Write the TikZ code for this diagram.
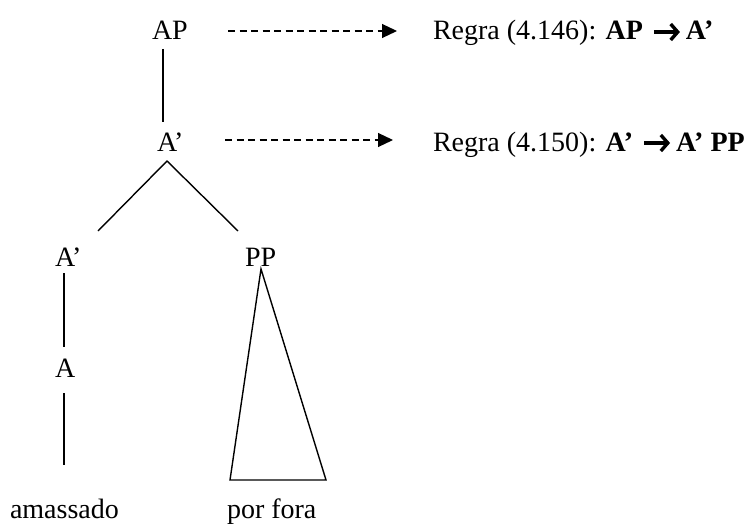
\documentclass[tikz,border=0pt]{standalone}
\usepackage{fontspec}
\setmainfont{Liberation Serif}
\usetikzlibrary{arrows.meta,calc}
\tikzset{
  lbl/.style={inner sep=0pt, outer sep=0pt, text height=19pt, text depth=0pt, anchor=base west, font=\fontsize{28pt}{33pt}\selectfont},
  treeline/.style={line width=1.4pt},
  dasharrow/.style={line width=1.2pt, dash pattern=on 7pt off 4.5pt, -{Triangle[length=15pt,width=14pt]}},
  bigarrow/.style={line width=3.4pt, -{Straight Barb[length=7pt,width=16pt]}}
}
\begin{document}
\begin{tikzpicture}[x=1pt,y=-1pt]
\useasboundingbox (0,0) rectangle (749,524);
% tree nodes
\node[lbl] (ap) at (152,40) {AP};
\node[lbl] (a1) at (157,151) {A’};
\node[lbl] (a2) at (55,266) {A’};
\node[lbl] (pp) at (245,266) {PP};
\node[lbl] (aa) at (55,377) {A};
\node[lbl] (am) at (10,518) {amassado};
\node[lbl] (pf) at (227,518) {por fora};
% rule texts
\node[lbl] (r1a) at (433,40) {Regra (4.146): \textbf{AP}};
\node[lbl] (r1b) at ($(r1a.base east)+(43,0)$) {\textbf{A’}};
\node[lbl] (r2a) at (433,151) {Regra (4.150): \textbf{A’}};
\node[lbl] (r2b) at ($(r2a.base east)+(43,0)$) {\textbf{A’ PP}};
% tree lines
\draw[treeline] ($(ap.base west)+(11,9)$) -- ($(a1.base west)+(6,-29)$);
\draw[treeline] ($(a2.base west)+(43,-35)$) -- ($(a1.base west)+(10,10)$) -- ($(pp.base west)+(-7,-35)$);
\draw[treeline] ($(a2.base west)+(9,7)$) -- ($(aa.base west)+(9,-30)$);
\draw[treeline] ($(aa.base west)+(9,16)$) -- ($(am.base west)+(54,-53)$);
\draw[treeline, line join=miter] ($(pp.base west)+(16,3)$) -- ($(pf.base west)+(3,-38)$) -- ($(pf.base west)+(99,-38)$) -- cycle;
% dashed arrows
\draw[dasharrow] ($(ap.base west)+(76,-9)$) -- ($(r1a.base west)+(-36,-9)$);
\draw[dasharrow] ($(a1.base west)+(68,-11)$) -- ($(r2a.base west)+(-40,-11)$);
% bold rule arrows
\draw[bigarrow] ($(r1a.base east)+(11,-8)$) -- ($(r1b.base west)+(-6,-8)$);
\draw[bigarrow] ($(r2a.base east)+(11,-8)$) -- ($(r2b.base west)+(-6,-8)$);
\end{tikzpicture}
\end{document}
